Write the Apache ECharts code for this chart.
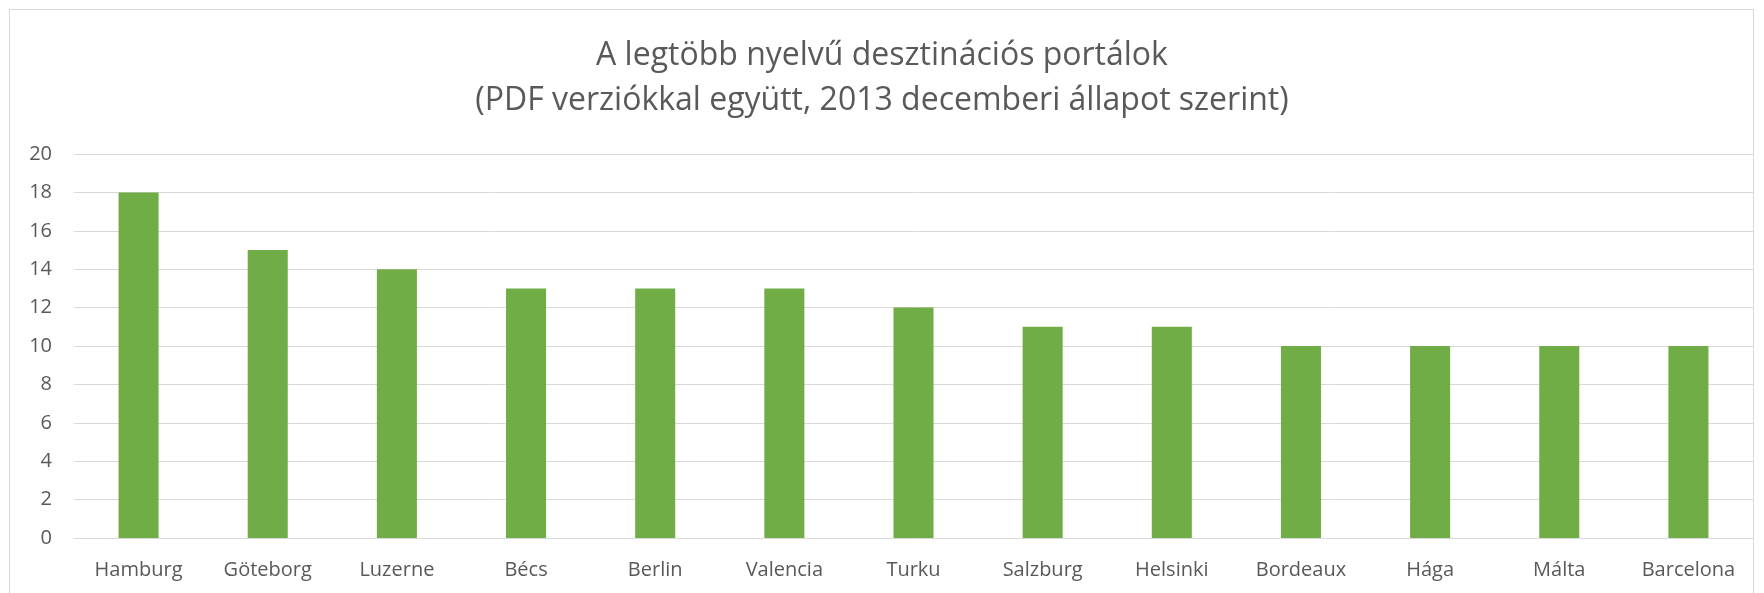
<!DOCTYPE html>
<html>
<head>
<meta charset="utf-8">
<script src="https://cdn.jsdelivr.net/npm/echarts@6/dist/echarts.min.js"></script>
<style>
  html, body { margin: 0; padding: 0; background: #fff; }
  #box {
    position: absolute;
    left: 9px; top: 9px;
    width: 1745px; height: 600px;
    border: 1px solid #d9d9d9;
    box-sizing: border-box;
  }
  #chart { position: absolute; left: 0; top: 0; width: 1764px; height: 593px; }
</style>
</head>
<body>
<div id="box"></div>
<div id="chart"></div>
<script>
  // adatok
  var varosok = ['Hamburg', 'Göteborg', 'Luzerne', 'Bécs', 'Berlin', 'Valencia', 'Turku',
    'Salzburg', 'Helsinki', 'Bordeaux', 'Hága', 'Málta', 'Barcelona'];
  var nyelvek = [18, 15, 14, 13, 13, 13, 12, 11, 11, 10, 10, 10, 10];
  var cim = 'A legtöbb nyelvű desztinációs portálok\n(PDF verziókkal együtt, 2013 decemberi állapot szerint)';

  var chart = echarts.init(document.getElementById('chart'));
  chart.setOption({
    animation: false,
    title: {
      text: cim,
      left: 'center',
      top: 28,
      textStyle: {
        fontFamily: 'Open Sans',
        fontSize: 32,
        fontWeight: 'normal',
        color: '#595959',
        lineHeight: 45
      }
    },
    grid: { left: 74, right: 11, top: 154, bottom: 55 },
    xAxis: {
      type: 'category',
      data: varosok,
      axisLine: { show: true, lineStyle: { color: '#d9d9d9', width: 1 } },
      axisTick: { show: false },
      axisLabel: {
        interval: 0,
        margin: 22,
        color: '#595959',
        fontFamily: 'Open Sans',
        fontSize: 20
      }
    },
    yAxis: {
      type: 'value',
      min: 0,
      max: 20,
      interval: 2,
      axisLine: { show: false },
      axisTick: { show: false },
      splitLine: { lineStyle: { color: '#d9d9d9', width: 1 } },
      axisLabel: {
        margin: 22,
        color: '#595959',
        fontFamily: 'Open Sans',
        fontSize: 20
      }
    },
    series: [{
      type: 'bar',
      data: nyelvek,
      barWidth: '31%',
      itemStyle: { color: '#70ad47' }
    }]
  });
</script>
</body>
</html>
